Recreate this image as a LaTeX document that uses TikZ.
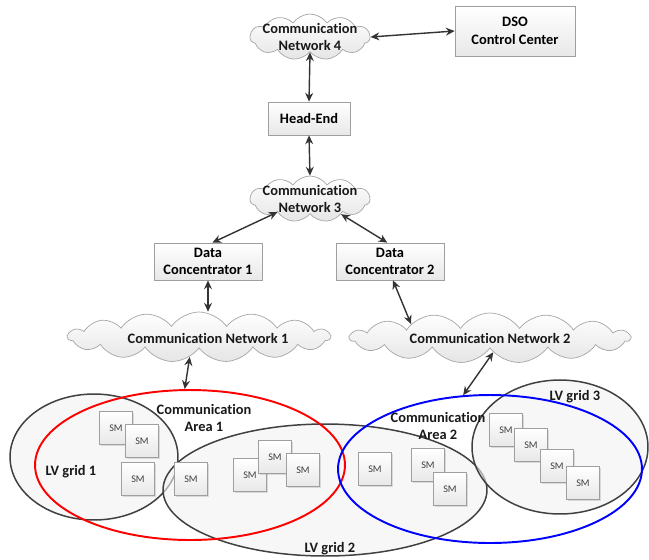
\documentclass[tikz,border=0pt]{standalone}
\usepackage{fontspec}
\setmainfont{Carlito}[Ligatures=NoCommon]
\usetikzlibrary{shapes.geometric,shapes.symbols,shadows,arrows.meta,calc}
\begin{document}
\begin{tikzpicture}[x=0.02cm,y=-0.02cm,
  lbl/.style={font=\bfseries\fontsize{8.2}{10}\selectfont, align=center, text=black!90},
  boxnode/.style={draw=gray!75, top color=white, bottom color=gray!18, rectangle,
     drop shadow={opacity=0.25, shadow xshift=0.8pt, shadow yshift=-0.8pt},
     font=\bfseries\fontsize{8.2}{10}\selectfont, align=center, inner sep=1pt},
  cloudnode/.style={cloud, cloud puffs=11, cloud puff arc=110, draw=gray!70, top color=white, bottom color=gray!20, inner sep=0pt},
  smbox/.style={draw=gray!75, top color=white, bottom color=gray!18, rectangle,
     minimum width=0.66cm, minimum height=0.66cm, inner sep=0pt,
     drop shadow={opacity=0.25, shadow xshift=0.8pt, shadow yshift=-0.8pt},
     font=\fontsize{5.8}{7}\selectfont, text=black!75},
  gridell/.style={ellipse, draw=black!75, line width=0.85pt, fill=gray!10, fill opacity=0.6, inner sep=0pt},
  areaell/.style={ellipse, line width=1.1pt, inner sep=0pt},
  link/.style={{Stealth[length=5pt,width=4.5pt]}-{Stealth[length=5pt,width=4.5pt]}, draw=black!80, line width=0.8pt}
]
\useasboundingbox (0,0) rectangle (649,559);

% top part
\node[cloudnode, minimum width=2.4cm, minimum height=0.92cm] (c4) at (310,37) {};
\node[lbl] (c4t) at (310,37) {Communication\\Network 4};
\node[boxnode, minimum width=2.4cm, minimum height=1cm] (dso) at (515,31) {DSO\\Control Center};
\node[boxnode, minimum width=1.64cm, minimum height=0.66cm] (he) at (309,118.5) {Head-End};
\node[cloudnode, minimum width=2.4cm, minimum height=0.92cm] (c3) at (310,199) {};
\node[lbl] (c3t) at (310,199) {Communication\\Network 3};
\node[boxnode, minimum width=2.16cm, minimum height=0.74cm] (dc1) at (208,261.5) {Data\\Concentrator 1};
\node[boxnode, minimum width=2.16cm, minimum height=0.74cm] (dc2) at (390,261.5) {Data\\Concentrator 2};
\node[cloudnode, cloud puffs=15, minimum width=5.24cm, minimum height=1cm] (c1) at (199,337) {};
\node[lbl] (c1t) at (208,338) {Communication Network 1};
\node[cloudnode, cloud puffs=15, minimum width=5.6cm, minimum height=1cm] (c2) at (490,338) {};
\node[lbl] (c2t) at (490,338) {Communication Network 2};

% ellipses
\node[gridell, minimum width=3.36cm, minimum height=2.52cm] (g1) at (94,457) {};
\node[gridell, minimum width=6.48cm, minimum height=2.64cm] (g2) at (325,490) {};
\node[gridell, minimum width=3.52cm, minimum height=2.68cm] (g3) at (560,447) {};
\node[areaell, draw=red, minimum width=6.2cm, minimum height=3.0cm] (ca1) at (190,465) {};
\node[areaell, draw=blue, minimum width=6.08cm, minimum height=2.96cm] (ca2) at (490,469) {};

% labels
\node[lbl] (ca1t) at (204,418) {Communication\\Area 1};
\node[lbl] (ca2t) at (438,426) {Communication\\Area 2};
\node[lbl] (g1t) at (71,472) {LV grid 1};
\node[lbl] (g2t) at (330,549) {LV grid 2};
\node[lbl] (g3t) at (575,397) {LV grid 3};

% smart meters
\node[smbox] (sm1) at (116,428) {SM};
\node[smbox] (sm2) at (142,441) {SM};
\node[smbox] (sm3) at (138,479) {SM};
\node[smbox] (sm4) at (191,479) {SM};
\node[smbox] (sm5) at (250,475) {SM};
\node[smbox] (sm6) at (275,457) {SM};
\node[smbox] (sm7) at (303,470) {SM};
\node[smbox] (sm8) at (375,469) {SM};
\node[smbox] (sm9) at (428,465) {SM};
\node[smbox] (sm10) at (450,489) {SM};
\node[smbox] (sm11) at (506,430) {SM};
\node[smbox] (sm12) at (531,445) {SM};
\node[smbox] (sm13) at (557,466) {SM};
\node[smbox] (sm14) at (583,483) {SM};

% connectors
\draw[link] (c4.east) -- (dso.west);
\draw[link] (c4.south) -- (he.north);
\draw[link] (he.south) -- (c3.north);
\draw[link] (c3.202) -- (dc1.77);
\draw[link] (c3.334) -- (dc2.98);
\draw[link] (dc1.south) -- (c1.north -| dc1.south);
\draw[link] ($(dc2.south)+(3,0)$) -- (c2.170);
\draw[link] (c1.245) -- (ca1.94);
\draw[link] (c2.283) -- (ca2.110);
\end{tikzpicture}
\end{document}
